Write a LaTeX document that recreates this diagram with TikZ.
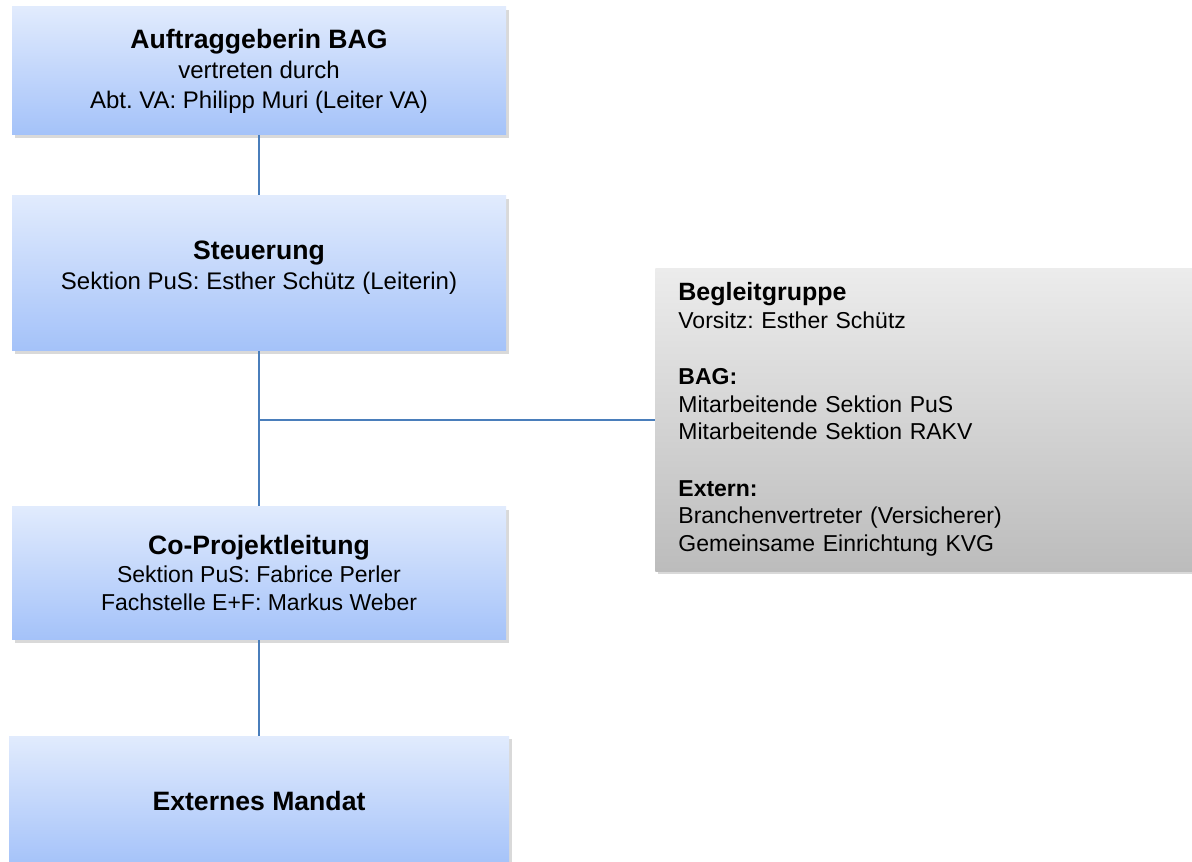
\documentclass[tikz,border=0pt]{standalone}
\usepackage{fontspec}
\setmainfont{Liberation Sans}
\usetikzlibrary{positioning, shadows}
\definecolor{boxtop}{HTML}{E1EBFD}
\definecolor{boxbottom}{HTML}{A4C2F9}
\definecolor{greytop}{HTML}{ECECEC}
\definecolor{greybottom}{HTML}{BCBCBC}
\definecolor{linkblue}{HTML}{4A7EBB}
\frenchspacing

\begin{document}
\begin{tikzpicture}[
    node distance=30pt,
    orgbox/.style={rectangle, minimum width=247pt, inner sep=0pt, align=center,
        top color=boxtop, bottom color=boxbottom,
        drop shadow={shadow xshift=1.5pt, shadow yshift=-1.5pt, opacity=0.3},
        font=\fontsize{11.5}{13.9}\selectfont},
    bigbody/.style={font=\fontsize{12}{15}\selectfont},
    groupbox/.style={rectangle, minimum width=272.5pt, minimum height=151.5pt,
        text width=249.5pt, inner xsep=11.5pt, inner ysep=0pt, align=left,
        top color=greytop, bottom color=greybottom,
        drop shadow={shadow xshift=1.5pt, shadow yshift=-1.5pt, opacity=0.3},
        font=\fontsize{11.5}{13.75}\selectfont},
    link/.style={draw=linkblue, line width=1pt}
]
    \clip (0,0) rectangle (596pt,-430.5pt);

    % Boxes
    \node[orgbox, bigbody, minimum height=64pt] (auftrag) at (129.5pt,-35.5pt)
        {{\fontsize{13.3}{16}\selectfont\bfseries Auftraggeberin BAG}\\vertreten durch\\Abt. VA: Philipp Muri (Leiter VA)};
    \node[orgbox, bigbody, minimum height=77.5pt, text depth=8pt] (steuerung) [below=of auftrag]
        {{\fontsize{13.3}{16}\selectfont\bfseries Steuerung}\\Sektion PuS: Esther Schütz (Leiterin)};
    \node[orgbox, minimum height=66.5pt] (copl) [below=77.5pt of steuerung]
        {{\fontsize{13.3}{16}\selectfont\bfseries Co-Projektleitung}\\Sektion PuS: Fabrice Perler\\Fachstelle E+F: Markus Weber};
    \node[orgbox, minimum width=250pt, minimum height=65pt] (mandat) [below=48pt of copl]
        {{\fontsize{13.3}{16}\selectfont\bfseries Externes Mandat}};
    \node[groupbox, anchor=west] (begleit) at (327.5pt,-209.75pt)
        {{\fontsize{12.5}{14}\selectfont\bfseries Begleitgruppe}\\
         Vorsitz: Esther Schütz\\[14.5pt]
         \textbf{BAG:}\\
         Mitarbeitende Sektion PuS\\
         Mitarbeitende Sektion RAKV\\[14.5pt]
         \textbf{Extern:}\\
         Branchenvertreter (Versicherer)\\
         Gemeinsame Einrichtung KVG};

    % Connections
    \coordinate (junction) at (steuerung.south |- begleit.west);
    \path[link]
    (auftrag) -- (steuerung)
    (steuerung) -- (copl)
    (copl) -- (mandat)
    (junction) -- (begleit.west);
\end{tikzpicture}
\end{document}
